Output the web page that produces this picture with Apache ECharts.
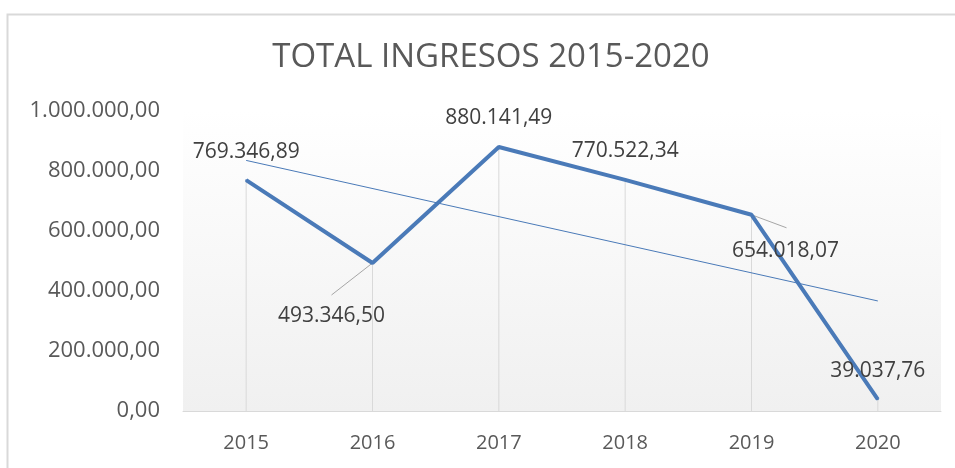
<!DOCTYPE html>
<html>
<head>
<meta charset="utf-8">
<title>TOTAL INGRESOS 2015-2020</title>
<script src="https://cdn.jsdelivr.net/npm/echarts@6/dist/echarts.min.js"></script>
<style>
    html, body { margin: 0; padding: 0; background: #fff; }
    #main { width: 955px; height: 468px; }
</style>
</head>
<body>
<div id="main"></div>
<script>
// datos
var years = ['2015', '2016', '2017', '2018', '2019', '2020'];
var ingresos = [769346.89, 493346.50, 880141.49, 770522.34, 654018.07, 39037.76];
// línea de tendencia (extremos)
var tendencia = [835300, null, null, null, null, 366800];
var yTicks = [0, 200000, 400000, 600000, 800000, 1000000];

// formato español: 1.000.000,00
function fmt(v) {
    var parts = v.toFixed(2).split('.');
    var ent = parts[0].replace(/\B(?=(\d{3})+(?!\d))/g, '.');
    return ent + ',' + parts[1];
}

var chart = echarts.init(document.getElementById('main'));

// etiquetas desplazadas (2016 y 2019) y sus líneas guía
var labelPos = {
    1: [-40, 54],
    4: [35, 37]
};
var guia = {
    1: [-41, 32],
    4: [35, 13]
};

var lineData = ingresos.map(function (v, i) {
    var item = { value: v };
    if (labelPos[i]) {
        item.label = { position: labelPos[i], align: 'center', verticalAlign: 'middle' };
    }
    return item;
});

var option = {
    animation: false,
    title: {
        text: 'TOTAL INGRESOS 2015-2020',
        left: 486,
        textAlign: 'center',
        top: 36,
        textStyle: {
            fontFamily: 'Open Sans',
            fontSize: 33,
            fontWeight: 'normal',
            color: '#595959'
        }
    },
    graphic: [{
        id: 'marco',
        type: 'rect',
        left: 5,
        top: 12,
        shape: { width: 1000, height: 500 },
        style: { fill: 'none', stroke: '#d9d9d9', lineWidth: 2 },
        silent: true
    }],
    grid: {
        left: 183,
        right: 14,
        top: 111,
        bottom: 57,
        show: true,
        borderWidth: 0,
        backgroundColor: new echarts.graphic.LinearGradient(0, 0, 0, 1, [
            { offset: 0, color: '#ffffff' },
            { offset: 1, color: '#f0f0f0' }
        ])
    },
    xAxis: {
        type: 'category',
        data: years,
        axisLine: { lineStyle: { color: '#d9d9d9', width: 1 } },
        axisTick: { show: false },
        axisLabel: {
            margin: 22,
            fontFamily: 'Open Sans',
            fontSize: 20,
            color: '#595959'
        }
    },
    yAxis: {
        type: 'value',
        min: yTicks[0],
        max: yTicks[yTicks.length - 1],
        interval: 200000,
        axisLine: { show: false },
        axisTick: { show: false },
        splitLine: { show: false },
        axisLabel: {
            margin: 23,
            fontFamily: 'Open Sans',
            fontSize: 22,
            color: '#595959',
            formatter: function (v) { return fmt(v); }
        }
    },
    series: [
        {
            // líneas de caída hasta el eje
            type: 'bar',
            data: ingresos,
            barWidth: 1,
            silent: true,
            itemStyle: { color: '#d9d9d9' },
            z: 1
        },
        {
            // tendencia lineal
            type: 'line',
            data: tendencia,
            connectNulls: true,
            symbol: 'none',
            silent: true,
            lineStyle: { color: '#4a7ab8', width: 1 },
            z: 2
        },
        {
            type: 'line',
            data: lineData,
            symbol: 'circle',
            symbolSize: 2,
            itemStyle: { color: '#4a7ab8' },
            lineStyle: { color: '#4a7ab8', width: 4 },
            label: {
                show: true,
                position: 'top',
                distance: 17,
                fontFamily: 'Open Sans',
                fontSize: 21,
                color: '#404040',
                formatter: function (p) { return fmt(p.value); }
            },
            z: 3
        }
    ]
};

chart.setOption(option);

// líneas guía desde el punto hacia la etiqueta
var guias = [];
Object.keys(guia).forEach(function (k) {
    var i = +k;
    var p = chart.convertToPixel({ seriesIndex: 2 }, [i, ingresos[i]]);
    guias.push({
        id: 'guia' + i,
        type: 'line',
        shape: { x1: p[0], y1: p[1], x2: p[0] + guia[k][0], y2: p[1] + guia[k][1] },
        style: { stroke: '#a6a6a6', lineWidth: 1 },
        silent: true,
        z: 1
    });
});
chart.setOption({ graphic: guias });
</script>
</body>
</html>
